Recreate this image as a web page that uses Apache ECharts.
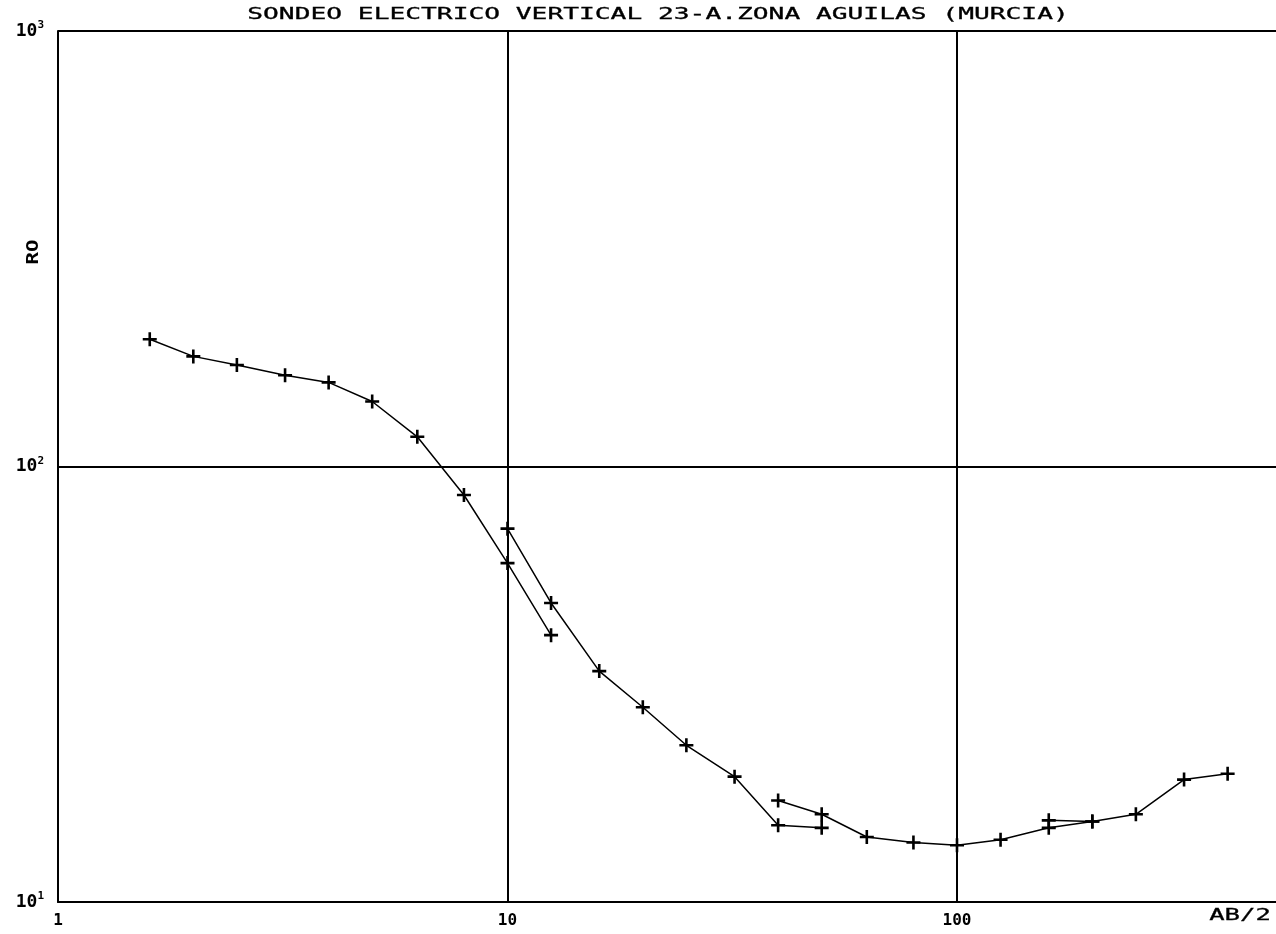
<!DOCTYPE html>
<html>
<head>
<meta charset="utf-8">
<script src="https://cdn.jsdelivr.net/npm/echarts@6/dist/echarts.min.js"></script>
<style>
html,body{margin:0;padding:0;background:#fff;}
#c{width:1276px;height:934px;}
</style>
</head>
<body>
<div id="c"></div>
<script>
// ---- data (AB/2 in m, apparent resistivity RO in ohm·m) ----
const ab2_s1 = [1.6, 2, 2.5, 3.2, 4, 5, 6.3, 8, 10, 12.5];
const rho_s1 = [196, 179, 171, 162, 156, 141, 117, 86, 60, 41];
const ab2_s2 = [10, 12.5, 16, 20, 25, 32, 40, 50];
const rho_s2 = [72, 48.6, 33.9, 28.0, 22.9, 19.4, 15.0, 14.8];
const ab2_s3 = [40, 50, 63, 80, 100, 125, 160, 200];
const rho_s3 = [17.1, 15.9, 14.1, 13.7, 13.5, 13.9, 14.8, 15.3];
const ab2_s4 = [160, 200, 250, 320, 400];
const rho_s4 = [15.4, 15.3, 15.9, 19.1, 19.7];

const titleText = 'SONDEO ELECTRICO VERTICAL 23-A.ZONA AGUILAS (MURCIA)';
const yName = 'RO';
const xName = 'AB/2';

function pairs(xs, ys) { return xs.map((x, i) => [x, ys[i]]); }

const plusPath = 'path://M-1.3,-7H1.3V-1.3H7V1.3H1.3V7H-1.3V1.3H-7V-1.3H-1.3Z';
const gridLeft = 58, gridWidth = 1222, decadePx = 449.5;
const xMax = Math.pow(10, gridWidth / decadePx);

const chart = echarts.init(document.getElementById('c'), null, {renderer: 'canvas'});

function mkSeries(xs, ys) {
  return {
    type: 'line',
    data: pairs(xs, ys),
    symbol: plusPath,
    symbolSize: 14,
    showAllSymbol: true,
    itemStyle: {color: '#000'},
    lineStyle: {color: '#000', width: 1.5},
    silent: true
  };
}

const isPow10 = v => Math.abs(Math.log10(v) - Math.round(Math.log10(v))) < 1e-6;

chart.setOption({
  animation: false,
  backgroundColor: '#fff',
  grid: {left: gridLeft, top: 31, width: gridWidth, bottom: 32, containLabel: false, outerBoundsMode: 'none'},
  xAxis: {
    type: 'log', logBase: 10, min: 1, max: xMax,
    axisLine: {show: true, lineStyle: {color: '#000', width: 2}},
    axisTick: {show: false},
    splitLine: {show: true, lineStyle: {color: '#000', width: 2}},
    axisLabel: {
      margin: 11, color: '#000', fontFamily: 'DejaVu Sans Mono', fontWeight: 'bold', fontSize: 16,
      formatter: v => isPow10(v) ? String(Math.round(v)) : ''
    }
  },
  yAxis: {
    type: 'log', logBase: 10, min: 10, max: 1000,
    axisLine: {show: true, lineStyle: {color: '#000', width: 2}},
    axisTick: {show: false},
    splitLine: {show: true, lineStyle: {color: '#000', width: 2}},
    axisLabel: {
      margin: 14, color: '#000',
      formatter: v => '{b|10}{s|' + Math.round(Math.log10(v)) + '}',
      rich: {
        b: {fontFamily: 'DejaVu Sans Mono', fontWeight: 'bold', fontSize: 18, lineHeight: 22, color: '#000'},
        s: {fontFamily: 'DejaVu Sans Mono', fontWeight: 'bold', fontSize: 11, verticalAlign: 'top', lineHeight: 22, color: '#000'}
      }
    }
  },
  graphic: [
    {type: 'text', x: 658, y: 15, scaleX: 1.64, silent: true,
     style: {text: titleText, font: '16px "DejaVu Sans Mono"', fill: '#000', stroke: '#000', lineWidth: 0.3, textAlign: 'center', textVerticalAlign: 'middle'}},
    {type: 'text', x: 1240, y: 916, scaleX: 1.6, silent: true,
     style: {text: xName, font: '16px "DejaVu Sans Mono"', fill: '#000', stroke: '#000', lineWidth: 0.3, textAlign: 'center', textVerticalAlign: 'middle'}},
    {type: 'text', x: 34, y: 252, rotation: Math.PI / 2, scaleX: 1.3, silent: true,
     style: {text: yName, font: 'bold 16px "DejaVu Sans Mono"', fill: '#000', textAlign: 'center', textVerticalAlign: 'middle'}}
  ],
  series: [
    mkSeries(ab2_s1, rho_s1),
    mkSeries(ab2_s2, rho_s2),
    mkSeries(ab2_s3, rho_s3),
    mkSeries(ab2_s4, rho_s4)
  ]
});
</script>
</body>
</html>
